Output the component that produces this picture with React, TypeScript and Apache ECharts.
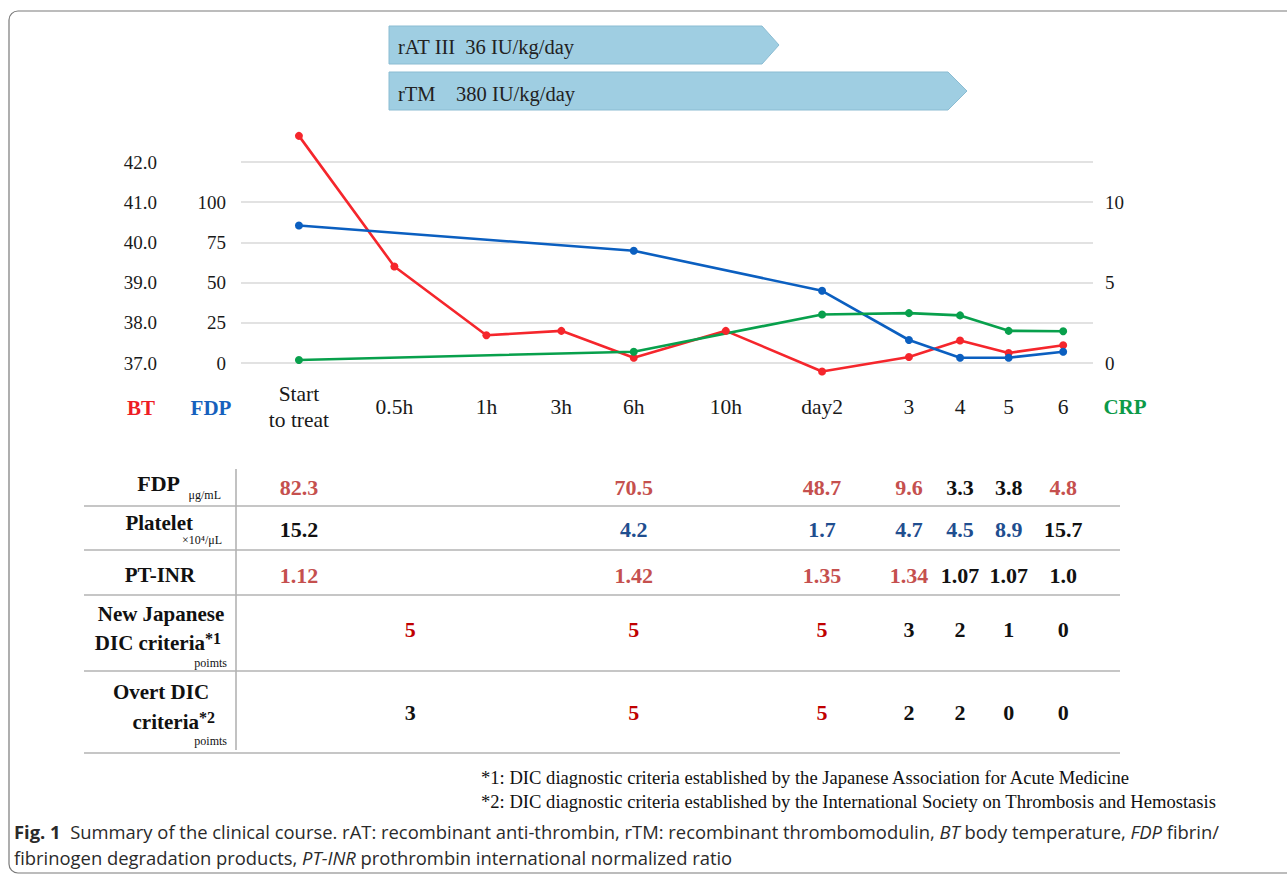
import React, { useEffect, useRef } from "react";
import * as echarts from "echarts";

// ---- chart data ----
const categories = ["Start\nto treat", "0.5h", "1h", "3h", "6h", "10h", "day2", "3", "4", "5", "6"];
// position of each time point on the (non-linear) time axis, 0..100
const timelinePos = [6.8, 18.0, 28.8, 37.6, 46.1, 56.9, 68.2, 78.4, 84.4, 90.1, 96.5];

const btValues = [42.65, 39.4, 37.69, 37.8, 37.13, 37.8, 36.79, 37.15, 37.56, 37.25, 37.44];
const fdpIdx = [0, 4, 6, 7, 8, 9, 10];
const fdpValues = [85.5, 69.8, 44.9, 14.3, 3.3, 3.3, 7.0];
const crpIdx = [0, 4, 6, 7, 8, 9, 10];
const crpValues = [0.19, 0.7, 3.02, 3.1, 2.96, 2.0, 1.97];

const btTicks = [37, 38, 39, 40, 41, 42];
const fdpTicks = [0, 25, 50, 75, 100];
const crpTicks = [0, 5, 10];

// ---- table data (per time point; "" = empty) ----
const tableFdp = ["82.3", "", "", "", "70.5", "", "48.7", "9.6", "3.3", "3.8", "4.8"];
const tableFdpTone = ["r", "", "", "", "r", "", "r", "r", "k", "k", "r"];
const tablePlt = ["15.2", "", "", "", "4.2", "", "1.7", "4.7", "4.5", "8.9", "15.7"];
const tablePltTone = ["k", "", "", "", "b", "", "b", "b", "b", "b", "k"];
const tableInr = ["1.12", "", "", "", "1.42", "", "1.35", "1.34", "1.07", "1.07", "1.0"];
const tableInrTone = ["r", "", "", "", "r", "", "r", "r", "k", "k", "k"];
const tableJp = ["", "5", "", "", "5", "", "5", "3", "2", "1", "0"];
const tableJpTone = ["", "R", "", "", "R", "", "R", "k", "k", "k", "k"];
const tableOvert = ["", "3", "", "", "5", "", "5", "2", "2", "0", "0"];
const tableOvertTone = ["", "k", "", "", "R", "", "R", "k", "k", "k", "k"];

const toneColor: Record<string, string> = {
  r: "#c5504e",
  b: "#1f4e8f",
  R: "#c00000",
  k: "#111111",
};

const SERIF = "'Liberation Serif', 'Times New Roman', serif";
const SANS = "'Open Sans', 'Noto Sans', sans-serif";

export default function App() {
  const ref = useRef<HTMLDivElement>(null);

  useEffect(() => {
    if (!ref.current) return;
    const chart = echarts.init(ref.current, undefined, { renderer: "svg" });

    const gridLeft = 241;
    const gridRight = 194;
    const tableTop = 470;
    const tableH = 283;
    const rowCenters = [17, 59, 105, 159, 242];

    const tableRows = [
      [tableFdp, tableFdpTone],
      [tablePlt, tablePltTone],
      [tableInr, tableInrTone],
      [tableJp, tableJpTone],
      [tableOvert, tableOvertTone],
    ];

    const tableSeries = tableRows.map(([vals, tones], r) => ({
      type: "scatter",
      xAxisIndex: 1,
      yAxisIndex: 3,
      symbolSize: 1,
      itemStyle: { color: "rgba(0,0,0,0)", opacity: 1 },
      silent: true,
      data: (vals as string[])
        .map((v, i) =>
          v
            ? {
                value: [timelinePos[i], rowCenters[r]],
                name: v,
                label: {
                  color: toneColor[(tones as string[])[i]],
                  offset: i === 1 ? [16, 0] : [0, 0],
                },
              }
            : null
        )
        .filter(Boolean),
      label: {
        show: true,
        position: "inside",
        formatter: (p: any) => p.name,
        fontFamily: SERIF,
        fontWeight: "bold",
        fontSize: 22,
        opacity: 1,
      },
    }));

    const lineStyleCommon = { width: 2.6 };

    const hLines = [506, 550, 595, 671, 753].map((y) => ({
      type: "line",
      shape: { x1: 84, y1: y, x2: 1120, y2: y },
      style: { stroke: "#b3b3b3", lineWidth: 1.6 },
      silent: true,
    }));

    const txt = (text: string, x: number, y: number, opts: any = {}) => ({
      type: "text",
      x,
      y,
      silent: true,
      style: {
        text,
        fontFamily: SERIF,
        fontSize: 21,
        fontWeight: "bold",
        fill: "#111",
        align: "center",
        verticalAlign: "middle",
        ...opts,
      },
    });

    const supText = (main: string, sup: string, x: number, y: number) => ({
      type: "text",
      x,
      y,
      silent: true,
      style: {
        text: `{m|${main}}{s|${sup}}`,
        align: "right",
        verticalAlign: "middle",
        fill: "#111",
        rich: {
          m: { fontFamily: SERIF, fontSize: 21, fontWeight: "bold", lineHeight: 26, verticalAlign: "middle", fill: "#111" },
          s: { fontFamily: SERIF, fontSize: 16, fontWeight: "bold", lineHeight: 26, verticalAlign: "top", fill: "#111" },
        },
      },
    });

    const option: any = {
      animation: false,
      backgroundColor: "#ffffff",
      grid: [
        { left: gridLeft, right: gridRight, top: 162, bottom: 877 - 363 },
        { left: gridLeft, right: gridRight, top: tableTop, height: tableH },
      ],
      xAxis: [
        {
          type: "value",
          gridIndex: 0,
          min: 0,
          max: 100,
          axisLine: { show: false },
          axisTick: { show: false },
          splitLine: { show: false },
          axisLabel: {
            customValues: timelinePos,
            formatter: (v: number) => {
              const i = timelinePos.findIndex((p) => Math.abs(p - v) < 1e-6);
              return i >= 0 ? categories[i] : "";
            },
            margin: 44,
            verticalAlign: "middle",
            fontFamily: SERIF,
            fontSize: 21.5,
            lineHeight: 26,
            color: "#1a1a1a",
          },
        },
        { type: "value", gridIndex: 1, min: 0, max: 100, show: false },
      ],
      yAxis: [
        {
          type: "value",
          gridIndex: 0,
          position: "left",
          offset: 76,
          min: 37,
          max: 42,
          interval: 1,
          axisLine: { show: false },
          axisTick: { show: false },
          splitLine: { show: true, lineStyle: { color: "#d9d9d9", width: 1.6 } },
          axisLabel: {
            margin: 8,
            formatter: (v: number) => (btTicks.includes(v) ? v.toFixed(1) : ""),
            fontFamily: SERIF,
            fontSize: 19,
            color: "#1a1a1a",
          },
        },
        {
          type: "value",
          gridIndex: 0,
          position: "left",
          offset: 0,
          min: 0,
          max: 125,
          interval: 25,
          axisLine: { show: false },
          axisTick: { show: false },
          splitLine: { show: false },
          axisLabel: {
            margin: 15,
            formatter: (v: number) => (fdpTicks.includes(v) ? String(v) : ""),
            fontFamily: SERIF,
            fontSize: 19,
            color: "#1a1a1a",
          },
        },
        {
          type: "value",
          gridIndex: 0,
          position: "right",
          min: 0,
          max: 12.5,
          interval: 5,
          axisLine: { show: false },
          axisTick: { show: false },
          splitLine: { show: false },
          axisLabel: {
            margin: 12,
            formatter: (v: number) => (crpTicks.includes(v) ? String(v) : ""),
            fontFamily: SERIF,
            fontSize: 19,
            color: "#1a1a1a",
          },
        },
        { type: "value", gridIndex: 1, min: 0, max: tableH, inverse: true, show: false },
      ],
      series: [
        {
          name: "BT",
          type: "line",
          xAxisIndex: 0,
          yAxisIndex: 0,
          clip: false,
          symbol: "circle",
          symbolSize: 8,
          color: "#f5262c",
          lineStyle: { ...lineStyleCommon, color: "#f5262c" },
          data: btValues.map((v, i) => [timelinePos[i], v]),
        },
        {
          name: "FDP",
          type: "line",
          xAxisIndex: 0,
          yAxisIndex: 1,
          clip: false,
          symbol: "circle",
          symbolSize: 8,
          color: "#0b5fc0",
          lineStyle: { ...lineStyleCommon, color: "#0b5fc0" },
          data: fdpValues.map((v, k) => [timelinePos[fdpIdx[k]], v]),
        },
        {
          name: "CRP",
          type: "line",
          xAxisIndex: 0,
          yAxisIndex: 2,
          clip: false,
          symbol: "circle",
          symbolSize: 8,
          color: "#08a04c",
          lineStyle: { ...lineStyleCommon, color: "#08a04c" },
          data: crpValues.map((v, k) => [timelinePos[crpIdx[k]], v]),
        },
        ...tableSeries,
      ],
      graphic: [
        // outer frame
        {
          type: "rect",
          shape: { x: 9, y: 11, width: 1300, height: 862, r: 9 },
          style: { fill: "none", stroke: "#7a7a7a", lineWidth: 1.2 },
          silent: true,
        },
        // therapy arrows
        {
          type: "polygon",
          shape: { points: [[389, 26], [762, 26], [779, 45], [762, 64], [389, 64]] },
          style: { fill: "#9fcee2", stroke: "#8bbcd2", lineWidth: 1 },
          silent: true,
        },
        {
          type: "polygon",
          shape: { points: [[389, 72], [948, 72], [967, 91], [948, 110], [389, 110]] },
          style: { fill: "#9fcee2", stroke: "#8bbcd2", lineWidth: 1 },
          silent: true,
        },
        txt("rAT III  36 IU/kg/day", 398, 47, { align: "left", fontWeight: "normal", fontSize: 20.5, fill: "#222" }),
        txt("rTM    380 IU/kg/day", 398, 94, { align: "left", fontWeight: "normal", fontSize: 20.5, fill: "#222" }),
        // axis titles
        txt("BT", 141, 408, { fill: "#ee1d25", fontSize: 21 }),
        txt("FDP", 211, 408, { fill: "#1560bd", fontSize: 21 }),
        txt("CRP", 1125, 407, { fill: "#0c9a48", fontSize: 21 }),
        // table lines
        ...hLines,
        {
          type: "line",
          shape: { x1: 236, y1: 469, x2: 236, y2: 750 },
          style: { stroke: "#b3b3b3", lineWidth: 1.6 },
          silent: true,
        },
        // row labels
        txt("FDP", 180, 483, { align: "right", fontSize: 22 }),
        txt("μg/mL", 221, 495, { align: "right", fontWeight: "normal", fontSize: 12 }),
        txt("Platelet", 193, 523, { align: "right" }),
        txt("×10⁴/μL", 222, 540, { align: "right", fontWeight: "normal", fontSize: 12 }),
        txt("PT-INR", 160, 575),
        txt("New Japanese", 161, 614),
        supText("DIC criteria", "*1", 221, 643),
        txt("poimts", 227, 663, { align: "right", fontWeight: "normal", fontSize: 12 }),
        txt("Overt DIC", 161, 692),
        supText("criteria", "*2", 215, 722),
        txt("poimts", 227, 741, { align: "right", fontWeight: "normal", fontSize: 12 }),
        // footnotes
        txt("*1: DIC diagnostic criteria established by the Japanese Association for Acute Medicine", 481, 777, {
          align: "left",
          fontWeight: "normal",
          fontSize: 18.6,
          fill: "#111",
        }),
        txt("*2: DIC diagnostic criteria established by the International Society on Thrombosis and Hemostasis", 481, 801, {
          align: "left",
          fontWeight: "normal",
          fontSize: 18.6,
          fill: "#111",
        }),
        // caption
        {
          type: "text",
          x: 14,
          y: 831,
          silent: true,
          style: {
            text:
              "{b|Fig. 1}  Summary of the clinical course. rAT: recombinant anti-thrombin, rTM: recombinant thrombomodulin, {i|BT} body temperature, {i|FDP} fibrin/",
            align: "left",
            verticalAlign: "middle",
            fill: "#2a2a2a",
            fontFamily: SANS,
            fontSize: 18.4,
            rich: {
              b: { fontFamily: SANS, fontSize: 18.4, fontWeight: "bold", fill: "#2a2a2a" },
              i: { fontFamily: SANS, fontSize: 18.4, fontStyle: "italic", fill: "#2a2a2a" },
            },
          },
        },
        {
          type: "text",
          x: 14,
          y: 857,
          silent: true,
          style: {
            text: "fibrinogen degradation products, {i|PT-INR} prothrombin international normalized ratio",
            align: "left",
            verticalAlign: "middle",
            fill: "#2a2a2a",
            fontFamily: SANS,
            fontSize: 18.4,
            rich: {
              i: { fontFamily: SANS, fontSize: 18.4, fontStyle: "italic", fill: "#2a2a2a" },
            },
          },
        },
      ],
    };

    chart.setOption(option);
    return () => chart.dispose();
  }, []);

  return (
    <div
      ref={ref}
      style={{ position: "fixed", left: 0, top: 0, width: 1287, height: 877, background: "#fff" }}
    />
  );
}
